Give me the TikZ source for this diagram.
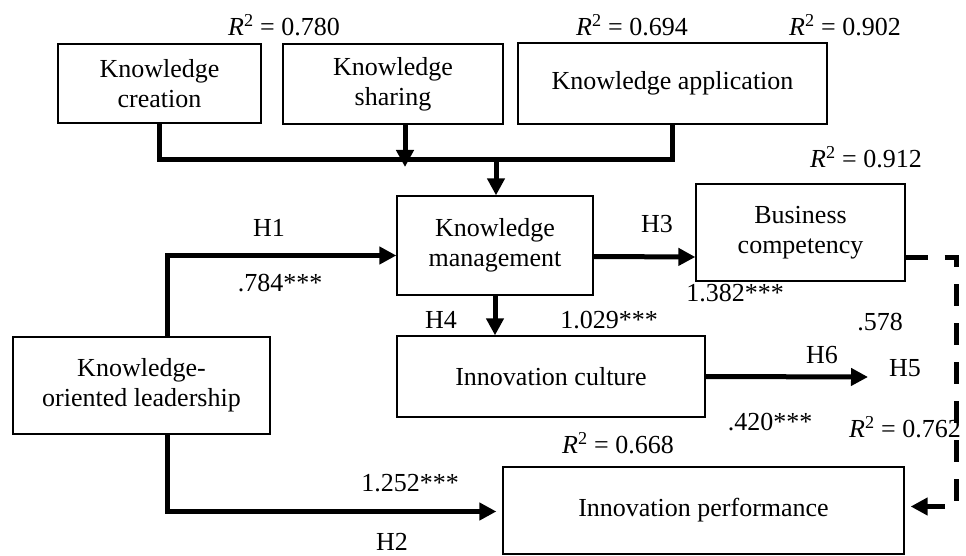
\documentclass[tikz,border=0pt]{standalone}
\usepackage{fontspec}
\setmainfont{Liberation Serif}
\usetikzlibrary{arrows.meta}
\newcommand{\rsq}[1]{\textit{R}\textsuperscript{2} = #1}
\tikzset{
  % node options
  construct/.style={rectangle,draw,line width=1.3pt,align=center,inner sep=0pt},
  coef/.style={inner sep=0pt},
  % path options
  link/.style={line width=5pt},
  effect/.style={link,-{Triangle[length=17pt,width=17pt]}},
  effect dashed/.style={effect,dash pattern=on 22pt off 17pt},
}

\begin{document}
\begin{tikzpicture}[x=1pt,y=-1pt,font=\fontsize{26}{30}\selectfont]
    \useasboundingbox (0,0) rectangle (966,556);
    % constructs
    \node[construct,minimum width=203pt,minimum height=79pt] (creation) at (159.5,83.5) {Knowledge\\creation};
    \node[construct,minimum width=220pt,minimum height=80pt] (sharing) at (393,84) {Knowledge\\sharing};
    \node[construct,minimum width=309pt,minimum height=81pt] (application) at (672.5,83.5) {Knowledge application};
    \node[construct,minimum width=196pt,minimum height=99pt] (km) at (495,245.5) {Knowledge\\management};
    \node[construct,minimum width=209pt,minimum height=97pt] (bc) at (800.5,232.5) {Business\\competency};
    \node[construct,minimum width=257pt,minimum height=97pt] (kol) at (141.5,385.5) {Knowledge-\\oriented leadership};
    \node[construct,minimum width=308pt,minimum height=81pt] (ic) at (551,376.5) {Innovation culture};
    \node[construct,minimum width=401pt,minimum height=87pt] (ip) at (703.5,510.5) {Innovation performance};
    \coordinate (bar) at (496,160);
    \coordinate (h6end) at (868,377);
    % connectors
    \draw[link] (creation.south) -- (creation.south |- bar) -- (application.south |- bar) -- (application.south);
    \draw[effect,shorten >=-7pt] ([xshift=12pt]sharing.south) -- ([xshift=12pt]sharing.south |- bar);
    \draw[effect] (bar) -- (bar |- km.north);
    \draw[effect] ([xshift=26pt]kol.north) |- ([yshift=-10pt]km.west);
    \draw[effect,shorten >=6pt] ([xshift=26pt]kol.south) |- ([yshift=-1pt]ip.west);
    \draw[effect] ([yshift=-11pt]km.east) -- ([yshift=-24.5pt]bc.west);
    \draw[effect] (km.south) -- (km.south |- ic.north);
    \draw[effect] (ic.east) -- (h6end);
    \draw[effect dashed] ([yshift=-24.5pt]bc.east) -- ++(51,0) |- ([xshift=6pt,yshift=4pt]ip.east);
    % coefficients and labels
    \node[coef] (r1) at (284,25) {\rsq{0.780}};
    \node[coef] (r2) at (632,25) {\rsq{0.694}};
    \node[coef] (r3) at (845,25) {\rsq{0.902}};
    \node[coef] (r4) at (866,157) {\rsq{0.912}};
    \node[coef] (r5) at (905,427) {\rsq{0.762}};
    \node[coef] (r6) at (618,443) {\rsq{0.668}};
    \node[coef] (h1) at (269,228) {H1};
    \node[coef] (c1) at (280,283) {.784***};
    \node[coef] (h3) at (657,224) {H3};
    \node[coef] (c3) at (735,293) {1.382***};
    \node[coef] (h4) at (441,320) {H4};
    \node[coef] (c4) at (609,320) {1.029***};
    \node[coef] (c5) at (880,322) {.578};
    \node[coef] (h6) at (822,355) {H6};
    \node[coef] (h5) at (905,368) {H5};
    \node[coef] (c6) at (770,422) {.420***};
    \node[coef] (c2) at (410,483) {1.252***};
    \node[coef] (h2) at (392,542) {H2};
\end{tikzpicture}
\end{document}
